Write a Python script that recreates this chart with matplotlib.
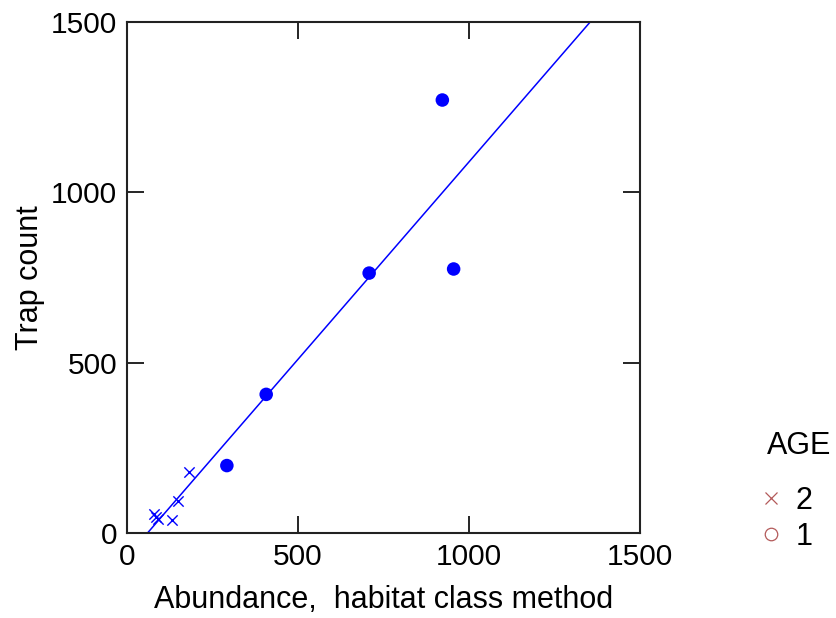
import matplotlib
matplotlib.use("Agg")
import matplotlib.pyplot as plt
from matplotlib.lines import Line2D
import numpy as np

plt.rcParams['font.family'] = ['Liberation Sans', 'DejaVu Sans']

# Age-2 fish (crosses)
age2_abund = [80, 85, 90, 131, 150, 182]
age2_trap = [55, 48, 42, 38, 95, 178]
# Age-1 fish (filled dots)
age1_abund = [292, 407, 708, 922, 955]
age1_trap = [198, 407, 763, 1271, 775]

# Fitted regression line: trap = slope * abundance + intercept
fit_slope = 1.159
fit_intercept = -69.5

ticks = [0, 500, 1000, 1500]
legend_labels = ['2', '1']

fig = plt.figure(figsize=(8.36, 6.18), dpi=100)
ax = fig.add_axes([0.1519, 0.1375, 0.6137, 0.8269])

blue = '#0000ff'
xs = np.array([0, 1500])
ax.plot(xs, fit_slope * xs + fit_intercept, color=blue, lw=1.1, zorder=2)
ax.scatter(age2_abund, age2_trap, marker='x', s=55, color=blue, linewidths=1.0, zorder=3)
ax.scatter(age1_abund, age1_trap, marker='o', s=95, color=blue, edgecolors='none', zorder=3)

ax.set_xlim(0, 1500)
ax.set_ylim(0, 1500)
ax.set_xticks(ticks)
ax.set_yticks(ticks)
ax.tick_params(direction='in', length=12, width=1.2, labelsize=21.5, pad=7,
               top=True, right=True, color='black')
for s in ax.spines.values():
    s.set_linewidth(1.5)
    s.set_color('#222222')

ax.set_xlabel('Abundance,  habitat class method', fontsize=22, labelpad=10)
ax.set_ylabel('Trap count', fontsize=22, labelpad=4)

fig.text(0.917, 0.278, 'AGE', fontsize=22, ha='left', va='center')
leg_color = '#b35a5a'
handles = [Line2D([], [], ls='none', marker='x', color=leg_color, markersize=8, mew=0.9),
           Line2D([], [], ls='none', marker='o', mfc='none', mec=leg_color, markersize=9, mew=0.9)]
fig.legend(handles, legend_labels, loc='center left',
           bbox_to_anchor=(0.886, 0.16), frameon=False, fontsize=22,
           handletextpad=0.3, labelspacing=0.2, handlelength=1.0, borderpad=0)

fig.savefig('out.png', dpi=100)
